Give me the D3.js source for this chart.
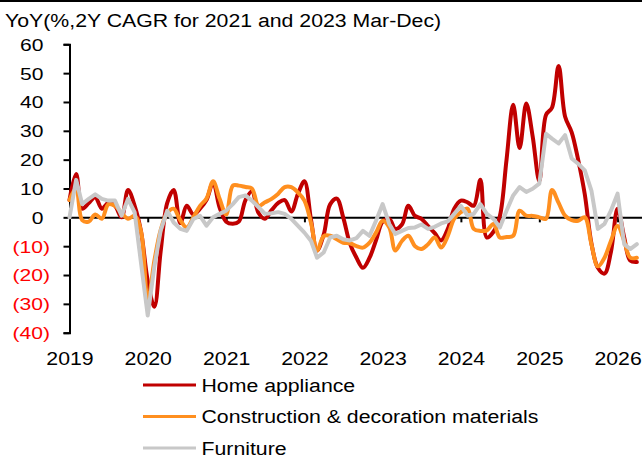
<!DOCTYPE html>
<html><head><meta charset="utf-8">
<script src="https://cdn.jsdelivr.net/npm/d3@7"></script>
<style>body{margin:0;background:#fff}svg{display:block}</style>
</head><body>
<svg id="c" width="642" height="459"></svg>
<script>
const titleText = "YoY(%,2Y CAGR for 2021 and 2023 Mar-Dec)";
const seriesNames = ["Home appliance", "Construction & decoration materials", "Furniture"];
const seriesColors = ["#C00000", "#FF8F1F", "#C8C8C8"];
const yTicks = [60, 50, 40, 30, 20, 10, 0, -10, -20, -30, -40];
const xTickYears = [2019, 2020, 2021, 2022, 2023, 2024, 2025, 2026];
// monthly values from Jan 2019
const homeAppliance = [6,15,3,5,7,3,5,4,0,9.5,4,-5,-22,-31,-12,5,9.5,-2,4,1,3,6,12,3.5,-1.5,-2.2,-1.5,6,9,1.5,-0.5,2.5,5,6,2,8,12.5,-1,-11.5,-6,4.5,6.5,0,-9,-14,-17.5,-14,-8,-1.5,-0.5,-4,-2.5,4,0.5,-0.5,-3,-5.5,-8,-4,3,5.8,5.2,4,13,-7,-5,0.5,20,39,24,39.5,28,12.5,35.5,38,52.5,35,29.5,20,8,-9,-17.5,-19.5,-12,3,-7,-15,-15.5];
const construction = [6,10,-1,-1.5,1,-0.5,4.5,4,1.5,-0.5,0.5,-5,-29,-15,-4.5,1.5,3,-1,-3.5,0,4,6.5,12.5,6.5,1,11,11,10.5,10,4,5.2,6.4,8.2,10.5,10.5,8.7,5.8,-2,-11.5,-6.5,-6.4,-7.6,-8.8,-9,-10,-10.5,-8.8,-5.3,-1.2,-3.5,-11.5,-8.2,-6.4,-10,-11,-9.3,-7,-10.5,-6.4,-0.5,1.8,3,-4,-4.7,-4.5,-2.3,-7,-6.8,-6.4,2.3,0.6,0.5,0,-0.5,9.5,5,0.6,-1,-1.2,0,-9.3,-17,-14,-8.2,-3,-8.2,-14,-14];
const furniture = [0,13,4.6,6.4,8,6.4,5.8,5.8,0.6,6.4,1.7,-16,-34,-17,-4.7,2.3,-1.8,-4,-4.7,-0.6,0.5,-2.9,0,1.2,2.3,4.6,7,7.6,5.8,3.5,1.2,1.4,1.8,1.2,-0.5,-2.9,-5.3,-8.2,-14,-12.2,-7,-6.4,-7.6,-8,-7.2,-4.7,-6.4,-1.2,4.6,-2.3,-5.8,-4.7,-3.7,-3.5,-2.5,-4,-3.3,-2.1,-1.4,1.2,4,0.6,1.2,4.6,1.2,-0.5,-3.5,2.3,7.6,10.5,8.8,9.9,11.7,29,27.3,25.6,28.5,20.4,18.6,16.3,9.3,-4,-2.3,2.3,8.2,-9.3,-11,-9.3];

const svg = d3.select("#c");
const FONT = "'Liberation Sans', Arial, sans-serif";
const X0 = 69.5, Y0 = 44.3, Y1 = 332.7;

const x = d3.scaleTime().domain([new Date(2019,0,1), new Date(2026,3,25)]).range([X0, 642]);
const y = d3.scaleLinear().domain([-40, 60]).range([Y1, Y0]);

// top border line
svg.append("rect").attr("x",0).attr("y",0).attr("width",642).attr("height",2).attr("fill","#000");

// title
svg.append("text").attr("transform","translate(5,27) scale(1.12,1)")
  .attr("font-family",FONT).attr("font-size",19).attr("fill","#000").text(titleText);

// y axis
const yAxis = svg.append("g").attr("transform",`translate(${X0},0)`)
  .call(d3.axisLeft(y).tickValues(yTicks).tickSize(6).tickSizeOuter(6)
    .tickFormat(d => d < 0 ? `(${Math.abs(d)})` : `${d}`));
yAxis.select(".domain").attr("stroke","#000").attr("stroke-width",2);
yAxis.selectAll(".tick line").attr("stroke","#000").attr("stroke-width",2);
yAxis.selectAll(".tick text")
  .attr("x",0).attr("dy","0.35em")
  .attr("transform", d => `translate(${d < 0 ? 50 - X0 : 43.5 - X0},0) scale(1.24,1)`)
  .attr("text-anchor","end")
  .attr("font-family",FONT).attr("font-size",17)
  .attr("fill", d => d < 0 ? "#FF0000" : "#000");

// x axis on zero line
const zeroY = y(0);
const xAxis = svg.append("g").attr("transform",`translate(0,${zeroY})`)
  .call(d3.axisBottom(x).tickValues(xTickYears.map(v => new Date(v,0,1))).tickSize(5).tickSizeOuter(0)
    .tickFormat(d3.timeFormat("%Y")));
xAxis.select(".domain").attr("stroke","#000").attr("stroke-width",2);
xAxis.selectAll(".tick line").attr("stroke","#000").attr("stroke-width",2);
xAxis.selectAll(".tick text")
  .attr("y",0).attr("dy","0.35em")
  .attr("transform",`translate(0,${358.5 - zeroY}) scale(1.12,1)`)
  .attr("font-family",FONT).attr("font-size",19).attr("fill","#000");

// lines
const dates = homeAppliance.map((_, i) => new Date(2019, i, 1));
const allSeries = [homeAppliance, construction, furniture];
const curves = [d3.curveCatmullRom.alpha(0.5), d3.curveCatmullRom.alpha(0.5), d3.curveLinear];
allSeries.forEach((vals, k) => {
  const line = d3.line().x((d, i) => x(dates[i])).y(d => y(d)).curve(curves[k]);
  svg.append("path").datum(vals).attr("d", line)
    .attr("fill","none").attr("stroke", seriesColors[k]).attr("stroke-width",4)
    .attr("stroke-linejoin","round").attr("stroke-linecap","round");
});

// legend
const legend = svg.append("g");
seriesNames.forEach((name, k) => {
  const ly = 385 + k * 31.5;
  legend.append("line").attr("x1",143).attr("x2",196).attr("y1",ly).attr("y2",ly)
    .attr("stroke",seriesColors[k]).attr("stroke-width",3);
  legend.append("text").attr("transform",`translate(201.5,${ly}) scale(1.12,1)`)
    .attr("dy","0.35em").attr("font-family",FONT).attr("font-size",19).attr("fill","#000").text(name);
});
</script>
</body></html>
